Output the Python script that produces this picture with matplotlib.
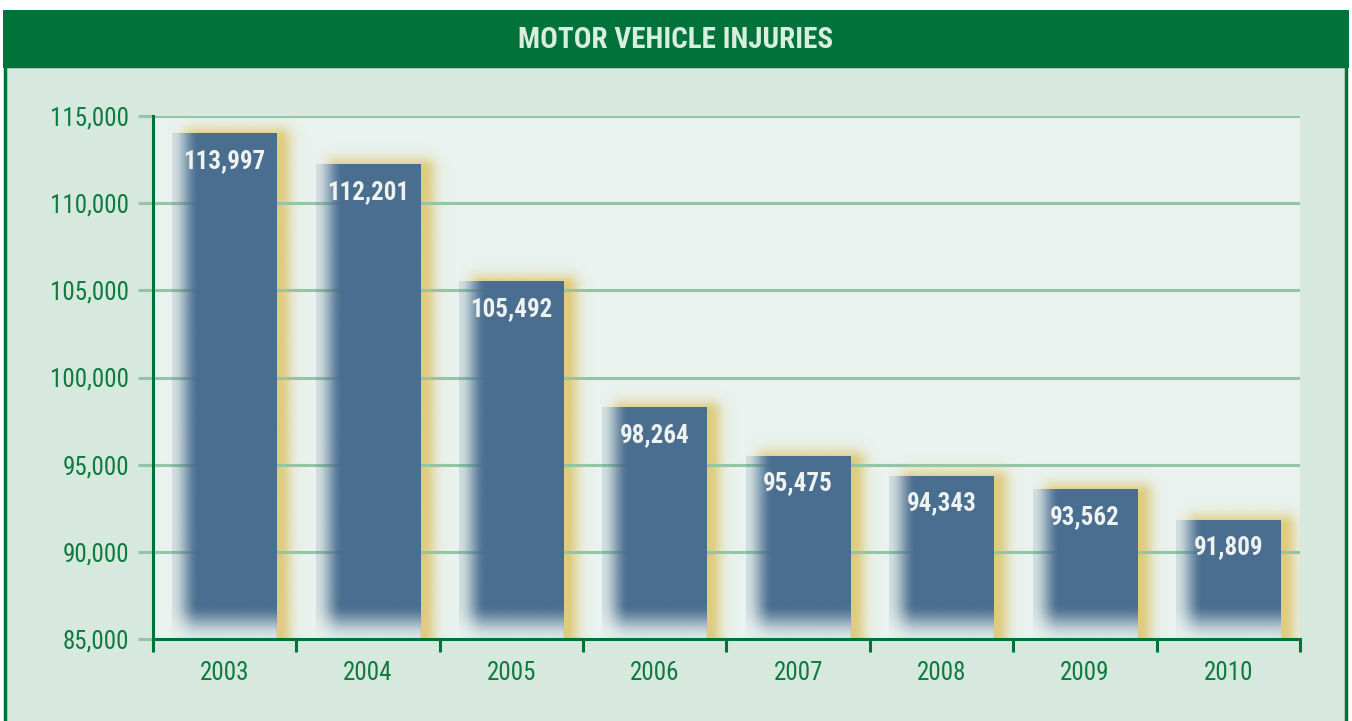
import numpy as np
import matplotlib.pyplot as plt
from matplotlib.patches import Rectangle

years = ['2003', '2004', '2005', '2006', '2007', '2008', '2009', '2010']
injuries = [113997, 112201, 105492, 98264, 95475, 94343, 93562, 91809]
y_ticks = [85000, 90000, 95000, 100000, 105000, 110000, 115000]
title = 'MOTOR VEHICLE INJURIES'

GREEN = '#00723a'
PANEL = '#d7e8df'
PLOT_BG = '#e9f2ee'
GRID = '#94c6a6'
TXT = '#0d7a3e'
BAR = np.array([0x4a, 0x6e, 0x8f]) / 255
GLOW = np.array([0xdf, 0xc7, 0x72]) / 255
FONT = ['Roboto Condensed', 'Liberation Sans', 'DejaVu Sans']

W, H = 1352, 721
fig = plt.figure(figsize=(W / 100, H / 100), dpi=100, facecolor='white')

# panel and header band
fig.patches.append(Rectangle((5 / W, -0.01), 1341 / W, (721 - 66) / H + 0.01,
                             transform=fig.transFigure, facecolor=PANEL,
                             edgecolor=GREEN, lw=2.5, zorder=-2))
fig.patches.append(Rectangle((3 / W, (721 - 68) / H), 1346 / W, 58 / H,
                             transform=fig.transFigure, facecolor=GREEN,
                             edgecolor='none', zorder=-1))
fig.text(0.5, (721 - 40) / H, title, ha='center', va='center', color='#d8eedf',
         fontsize=21, fontweight='bold', family=FONT)

ax_l, ax_r, ax_b, ax_t = 153, 1300, 721 - 639, 721 - 116
ax = fig.add_axes([ax_l / W, ax_b / H, (ax_r - ax_l) / W, (ax_t - ax_b) / H])
ax.set_facecolor(PLOT_BG)
n = len(years)
ymin, ymax = y_ticks[0], y_ticks[-1]

px_x = (ax_r - ax_l) / n          # pixels per category
px_y = (ax_t - ax_b) / (ymax - ymin)  # pixels per unit

width = 0.73


def smooth(t):
    t = np.clip(t, 0, 1)
    return t * t * (3 - 2 * t)


for i, v in enumerate(injuries):
    x0, x1 = i - width / 2, i + width / 2
    # yellow glow, offset to the right and top
    mx, my = 0.22, 30 / px_y
    gx0, gx1 = x0, x1 + mx
    gy1 = v + my
    gw = int((gx1 - gx0) * px_x)
    gh = int((gy1 - ymin) * px_y)
    xs = np.linspace(gx0, gx1, gw) * px_x
    ys = np.linspace(gy1, ymin, gh) * px_y
    rx0, rx1 = (x0 + 0.15) * px_x, (x1 + 0.02) * px_x
    ry1 = (v - 300) * px_y
    dx = np.maximum(np.maximum(rx0 - xs, xs - rx1), 0)[None, :]
    dy = np.maximum(ys - ry1, 0)[:, None]
    d = np.sqrt(dx ** 2 + dy ** 2)
    a = np.exp(-(d / 12.0) ** 2) * 0.9
    # keep the glow out from under the bar itself
    inside = (xs[None, :] <= x1 * px_x) & (ys[:, None] <= v * px_y)
    a[inside] = 0
    img = np.zeros((gh, gw, 4))
    img[..., :3] = GLOW
    img[..., 3] = a
    ax.imshow(img, extent=(gx0, gx1, ymin, gy1), aspect='auto',
              interpolation='bilinear', zorder=1)

    # bar body, faded at the left edge and the bottom
    bw = int(width * px_x)
    bh = int((v - ymin) * px_y)
    fx = 0.15 + 0.85 * smooth(np.arange(bw) / 26.0)
    fy = 0.1 + 0.9 * smooth(np.arange(bh)[::-1] / 34.0)
    img = np.zeros((bh, bw, 4))
    img[..., :3] = BAR
    img[..., 3] = fx[None, :] * fy[:, None]
    ax.imshow(img, extent=(x0, x1, ymin, v), aspect='auto',
              interpolation='bilinear', zorder=2)
    ax.annotate(f'{v:,}', (i, v), xytext=(0, -11), textcoords='offset points',
                ha='center', va='top', color='#eef3f0', fontsize=18,
                fontweight='bold', family=FONT, zorder=3)

ax.set_xlim(-0.5, n - 0.5)
ax.set_ylim(ymin, ymax)

# grid and axes
ax.set_axisbelow('line')
ax.set_yticks(y_ticks)
ax.set_yticklabels([f'{t:,}' for t in y_ticks])
ax.yaxis.grid(True, color=GRID, lw=2.2)
ax.tick_params(axis='y', length=11, width=2.2, color=GRID, labelcolor=TXT,
               labelsize=18, pad=6)
ax.set_xticks(np.arange(n + 1) - 0.5)
ax.set_xticklabels([])
ax.set_xticks(np.arange(n), minor=True)
ax.set_xticklabels(years, minor=True)
ax.tick_params(axis='x', which='major', length=9, width=2.2, color=GREEN,
               direction='out')
ax.tick_params(axis='x', which='minor', length=0, labelcolor=TXT,
               labelsize=18, pad=16)
for lab in ax.get_xticklabels(minor=True) + ax.get_yticklabels():
    lab.set_family(FONT)
for s in ['top', 'right']:
    ax.spines[s].set_visible(False)
for s in ['left', 'bottom']:
    ax.spines[s].set_color(GREEN)
    ax.spines[s].set_linewidth(2.2)

fig.savefig('out.png', dpi=100, facecolor='white')
